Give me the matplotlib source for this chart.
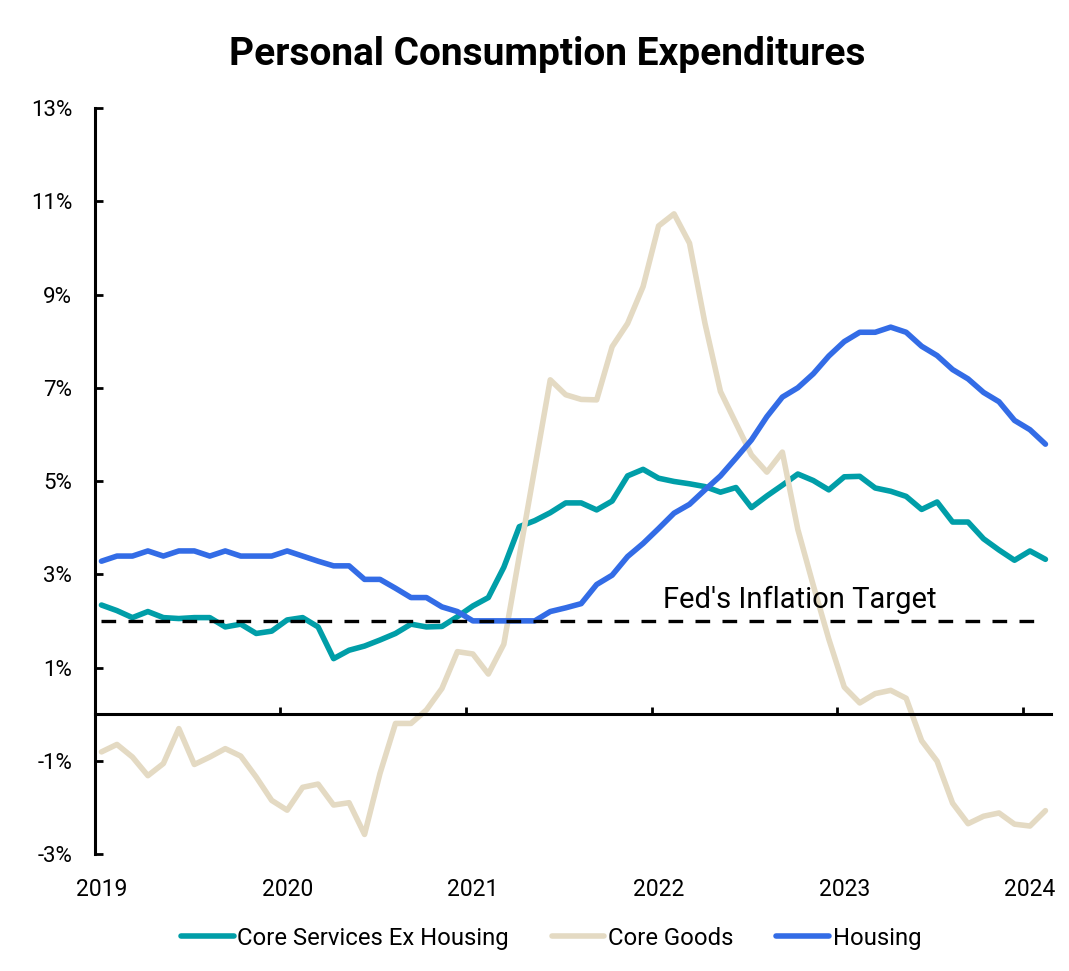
import matplotlib
matplotlib.use("Agg")
import matplotlib.pyplot as plt
import numpy as np
import pandas as pd
from matplotlib.ticker import FuncFormatter

plt.rcParams['font.family'] = ['Roboto', 'DejaVu Sans']

# monthly data, Jan 2019 .. Feb 2024 (YoY %)
months = pd.date_range('2019-01-01', periods=62, freq='MS')

core_services_ex_housing = [
    2.34, 2.22, 2.07, 2.20, 2.07, 2.05, 2.07, 2.07, 1.87, 1.93, 1.73, 1.78,
    2.02, 2.07, 1.87, 1.19, 1.37, 1.46, 1.59, 1.73, 1.93, 1.87, 1.88, 2.09,
    2.32, 2.50, 3.15, 4.02, 4.15, 4.32, 4.53, 4.53, 4.38, 4.57, 5.11, 5.25,
    5.06, 4.99, 4.94, 4.88, 4.76, 4.86, 4.43, 4.68, 4.91, 5.15, 5.01, 4.81,
    5.09, 5.10, 4.85, 4.78, 4.67, 4.39, 4.55, 4.12, 4.12, 3.76, 3.52, 3.30,
    3.50, 3.32]

core_goods = [
    -0.81, -0.65, -0.92, -1.32, -1.06, -0.31, -1.08, -0.92, -0.74, -0.90, -1.35, -1.85,
    -2.06, -1.57, -1.50, -1.95, -1.90, -2.58, -1.27, -0.20, -0.20, 0.09, 0.55, 1.34,
    1.29, 0.86, 1.50, 3.39, 5.28, 7.17, 6.85, 6.75, 6.74, 7.88, 8.38, 9.17,
    10.47, 10.73, 10.10, 8.38, 6.92, 6.24, 5.56, 5.19, 5.62, 3.96, 2.76, 1.61,
    0.58, 0.24, 0.44, 0.51, 0.34, -0.57, -1.01, -1.91, -2.35, -2.19, -2.12, -2.36,
    -2.40, -2.07]

housing = [
    3.28, 3.39, 3.39, 3.50, 3.39, 3.50, 3.50, 3.39, 3.50, 3.39, 3.39, 3.39,
    3.50, 3.39, 3.28, 3.18, 3.18, 2.89, 2.89, 2.70, 2.50, 2.50, 2.30, 2.20,
    2.00, 2.00, 2.00, 2.00, 2.00, 2.20, 2.28, 2.37, 2.78, 2.98, 3.38, 3.66,
    3.98, 4.31, 4.50, 4.81, 5.11, 5.49, 5.88, 6.38, 6.80, 7.00, 7.30, 7.68,
    7.99, 8.19, 8.19, 8.30, 8.19, 7.89, 7.69, 7.39, 7.19, 6.90, 6.70, 6.30,
    6.10, 5.79]

fed_target = 2.0
years = [2019, 2020, 2021, 2022, 2023, 2024]

# points sit a bit past the start of each month on the date axis
x = months.year + (months.month - 1 + 0.45) / 12

fig = plt.figure(figsize=(10.69, 9.71), dpi=100)
ax = fig.add_axes([94.5 / 1069, 1 - 854 / 971, (1051 - 94.5) / 1069, (854 - 108) / 971])

lw = 4
ax.plot(x, core_services_ex_housing, color='#009EA8', lw=lw, solid_capstyle='round',
        solid_joinstyle='round', label='Core Services Ex Housing')
ax.plot(x, core_goods, color='#E4DAC3', lw=lw, solid_capstyle='round',
        solid_joinstyle='round', label='Core Goods')
ax.plot(x, housing, color='#336CE6', lw=lw, solid_capstyle='round',
        solid_joinstyle='round', label='Housing')
ax.plot(x, [fed_target] * len(x), color='black', lw=2.4, dashes=(4.4, 3.7))
ax.text(2022.06, fed_target + 0.27, "Fed's Inflation Target", fontsize=21,
        va='baseline', ha='left')

ax.set_xlim(2019, 2019 + (1051 - 94.5) / 185.7)
ax.set_ylim(-3, 13)
ax.set_yticks(np.arange(-3, 14, 2))
ax.yaxis.set_major_formatter(FuncFormatter(lambda v, p: f"{v:.0f}%"))

for s in ['top', 'right']:
    ax.spines[s].set_visible(False)
ax.spines['bottom'].set_position(('data', 0))
ax.spines['bottom'].set_linewidth(2.2)
ax.spines['left'].set_linewidth(2.2)

ax.tick_params(axis='y', direction='in', length=5.5, width=2, labelsize=16, pad=16)
ax.set_xticks(years)
ax.tick_params(axis='x', direction='in', length=5, width=2, labelbottom=False)

sec = ax.secondary_xaxis('bottom')
sec.set_xticks([yr + 0.45 / 12 for yr in years], labels=[str(yr) for yr in years])
sec.tick_params(length=0, pad=17, labelsize=16.5)
sec.spines['bottom'].set_visible(False)

fig.text(547 / 1069, 1 - 65 / 971, 'Personal Consumption Expenditures',
         fontsize=28, fontweight='bold', ha='center', va='baseline')

fig.legend(loc='center', bbox_to_anchor=(551 / 1069, 1 - 938 / 971), ncol=3,
           frameon=False, fontsize=17.2, handlelength=2.2, handletextpad=0.15,
           columnspacing=1.8)

fig.savefig('out.png', dpi=100, facecolor='white')
